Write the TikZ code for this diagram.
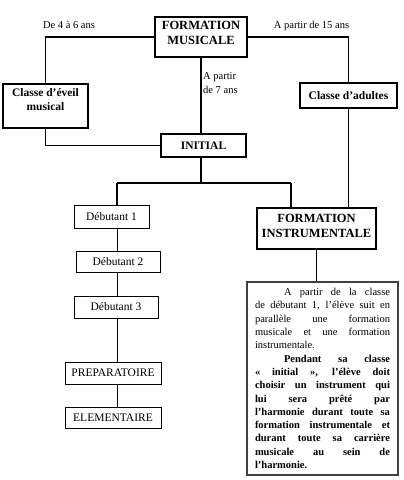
\documentclass[tikz,border=0pt]{standalone}
\usepackage{fontspec}
\setmainfont{Liberation Serif}
\usepackage{tikz}

\begin{document}
\begin{tikzpicture}[x=1pt, y=-1pt, every node/.style={inner sep=0pt},
		grand/.style={font=\fontsize{12.5}{15}\selectfont\bfseries, align=center},
		moyen/.style={font=\fontsize{11.5}{14}\selectfont\bfseries, align=center},
		petit/.style={font=\fontsize{10.5}{14}\selectfont, align=left},
		niveau/.style={draw, line width=0.8pt, font=\fontsize{11.5}{13}\selectfont},
		lien/.style={line width=1.2pt}]
	\useasboundingbox (0,0) rectangle (404,480);
	\node[draw, line width=1.4pt, minimum width=92, minimum height=40, label={[grand, yshift=4.5pt]center:{FORMATION\\MUSICALE}}] (fm)at(201,37) {};
	\node[draw, line width=1.8pt, minimum width=85, minimum height=44, label={[moyen, yshift=6pt]center:{Classe d’éveil\\musical}}] (eveil)at(45.5,106) {};
	\node[draw, line width=1.8pt, moyen, minimum width=97, minimum height=25] (adultes)at(348.5,95.5) {Classe d’adultes};
	\node[draw, line width=1.8pt, moyen, minimum width=85, minimum height=23] (initial)at(203.5,145.5) {INITIAL};
	\node[draw, line width=1.2pt, minimum width=119, minimum height=41, label={[grand, yshift=2.5pt]center:{FORMATION\\INSTRUMENTALE}}] (finstr)at(316.5,228.5) {};
	\node[niveau, minimum width=75, minimum height=23] (deb1)at(111.5,216.5) {Débutant 1};
	\node[niveau, minimum width=84, minimum height=21] (deb2)at(118,261.5) {Débutant 2};
	\node[niveau, minimum width=84, minimum height=22] (deb3)at(116,307) {Débutant 3};
	\node[niveau, minimum width=96, minimum height=22] (prep)at(113,373) {PREPARATOIRE};
	\node[niveau, minimum width=96, minimum height=21] (elem)at(113,417.5) {ELEMENTAIRE};
	% ages
	\node[petit] (age1)at(69,25) {De 4 à 6 ans};
	\node[petit] (age2)at(311.5,26) {A partir de 15 ans};
	\node[petit, anchor=west] (age3)at(203,83) {A partir\\de 7 ans};
	% texte
	\node[draw=black!75, line width=1.6pt, minimum width=151, minimum height=193, text width=135, inner xsep=8pt, align=justify, font=\fontsize{10.5}{13.3}\selectfont] (texte)at(322.5,378.5) {\parindent=0pt
		\hspace*{29pt}A partir de la classe\linebreak
		de débutant 1, l’élève suit en\linebreak
		parallèle une formation\linebreak
		musicale et une formation\linebreak
		instrumentale.\par
		{\bfseries\hspace*{29pt}Pendant sa classe\linebreak
		« initial », l’élève doit\linebreak
		choisir un instrument qui\linebreak
		lui sera prêté par\linebreak
		l’harmonie durant toute sa\linebreak
		formation instrumentale et\linebreak
		durant toute sa carrière\linebreak
		musicale au sein de\linebreak
		l’harmonie.\par}};
	\coordinate (gauche) at (117,183);
	\coordinate (droite) at (291,183);
	\draw[lien] (fm.west) -| (eveil.north);
	\draw[lien] (fm.east) -| (adultes.north);
	\draw[lien] (fm.south) -- (fm.south |- initial.north);
	\draw[lien] (eveil.south) |- (initial.west);
	\draw[lien] (fm.south |- initial.south) -- (fm.south |- gauche);
	\draw[lien] (gauche) -- (droite);
	\draw[lien] (gauche) -- (gauche |- deb1.north);
	\draw[lien] (droite) -- (droite |- finstr.north);
	\draw[lien] (adultes.south) -- (adultes.south |- finstr.north);
	\draw[lien] (finstr.south) -- (finstr.south |- texte.north);
	\draw[line width=0.9pt] (gauche |- deb1.south) -- (gauche |- deb2.north);
	\draw[line width=0.9pt] (gauche |- deb2.south) -- (gauche |- deb3.north);
	\draw[line width=0.9pt] (gauche |- deb3.south) -- (gauche |- prep.north);
	\draw[line width=0.9pt] (gauche |- prep.south) -- (gauche |- elem.north);
\end{tikzpicture}
\end{document}
